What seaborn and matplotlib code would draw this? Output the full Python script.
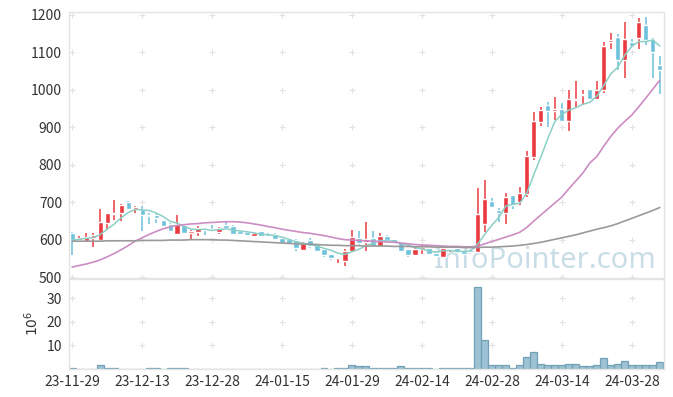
import numpy as np
import pandas as pd
import seaborn as sns
import matplotlib.pyplot as plt

sns.set_theme(style='white')
plt.rcParams['font.family'] = ['Noto Sans CJK KR', 'DejaVu Sans']

tick_labels = ['23-11-29', '23-12-13', '23-12-28', '24-01-15', '24-01-29',
               '24-02-14', '24-02-28', '24-03-14', '24-03-28']

opens = [619, 598, 597, 605, 600, 645, 668, 670, 701, 682,
         682, 667, 665, 652, 643, 616, 640, 619, 621, 631,
         628, 621, 638, 636, 623, 620, 611, 622, 616, 616,
         605, 602, 600, 573, 600, 588, 576, 561, 550, 543,
         569, 605, 594, 605, 583, 611, 601, 593, 574, 559,
         576, 578, 565, 555, 575, 579, 570, 573, 567, 641,
         703, 679, 671, 719, 701, 723, 821, 915, 959, 944,
         950, 917, 974, 986, 1002, 975, 1000, 1129, 1142, 1081,
         1128, 1138, 1173, 1135, 1066]
highs = [620, 609, 619, 618, 681, 671, 707, 695, 702, 690,
         690, 671, 668, 653, 645, 665, 640, 625, 636, 632,
         640, 633, 649, 638, 624, 621, 621, 623, 617, 617,
         606, 603, 601, 594, 605, 589, 577, 562, 555, 576,
         627, 622, 646, 624, 619, 613, 603, 594, 576, 577,
         585, 579, 566, 584, 583, 584, 571, 575, 737, 759,
         710, 684, 725, 720, 741, 836, 940, 953, 968, 980,
         964, 999, 1025, 1000, 1003, 1023, 1129, 1151, 1150, 1180,
         1137, 1191, 1195, 1138, 1090]
lows = [560, 593, 594, 581, 598, 627, 652, 650, 678, 672,
        623, 641, 645, 634, 622, 615, 615, 603, 611, 612,
        620, 616, 628, 612, 612, 611, 609, 609, 608, 598,
        588, 585, 569, 571, 579, 568, 553, 547, 537, 531,
        566, 583, 569, 580, 580, 596, 590, 568, 553, 557,
        562, 560, 555, 553, 566, 567, 560, 564, 565, 621,
        684, 648, 641, 681, 693, 714, 814, 903, 901, 920,
        917, 890, 955, 959, 974, 973, 991, 1110, 1052, 1031,
        1116, 1108, 1121, 1031, 990]
closes = [598, 605, 607, 612, 646, 670, 671, 692, 682, 688,
          665, 663, 658, 636, 623, 641, 618, 623, 630, 627,
          624, 632, 632, 614, 614, 613, 618, 611, 610, 603,
          592, 588, 579, 592, 584, 571, 559, 552, 553, 569,
          606, 592, 601, 583, 609, 598, 592, 570, 558, 576,
          580, 563, 557, 577, 578, 568, 563, 567, 669, 708,
          686, 671, 715, 693, 724, 823, 917, 946, 944, 949,
          917, 975, 977, 990, 975, 1001, 1117, 1132, 1080, 1135,
          1118, 1180, 1132, 1102, 1053]

ma20 = [527, 531, 535, 540, 546, 554, 563, 573, 584, 596,
        605, 614, 622, 629, 634, 638, 640, 642, 643, 645,
        646, 647, 648, 648, 647, 645, 642, 639, 635, 632,
        628, 625, 622, 619, 617, 614, 611, 607, 603, 600,
        599, 598, 597, 596, 595, 594, 593, 591, 589, 587,
        586, 585, 584, 583, 582, 582, 581, 581, 583, 589,
        595, 601, 607, 613, 620, 633, 650, 666, 682, 698,
        714, 736, 757, 778, 805, 822, 850, 876, 898, 916,
        933, 955, 978, 1002, 1026]
ma60 = [596, 596, 596, 596, 596, 597, 597, 597, 597, 597,
        598, 598, 598, 598, 599, 599, 599, 600, 600, 600,
        600, 599, 599, 598, 597, 596, 595, 594, 593, 592,
        591, 590, 589, 588, 588, 587, 586, 585, 585, 584,
        584, 584, 583, 583, 583, 583, 582, 582, 582, 581,
        581, 581, 580, 580, 580, 580, 579, 579, 579, 580,
        580, 581, 582, 583, 585, 587, 590, 593, 597, 601,
        605, 609, 613, 618, 623, 628, 632, 637, 643, 650,
        657, 664, 671, 678, 686]

# volume in millions
volume = [0.4, 0, 0, 0, 1.3, 0.4, 0.4, 0, 0, 0,
          0, 0.4, 0.4, 0, 0.4, 0.4, 0.4, 0, 0, 0,
          0, 0, 0, 0, 0, 0, 0, 0, 0, 0,
          0, 0, 0, 0, 0, 0, 0.4, 0, 0.4, 0.4,
          1.7, 0.9, 0.9, 0.4, 0.4, 0.4, 0.4, 0.9, 0.4, 0.4,
          0.4, 0.4, 0, 0.4, 0.4, 0.4, 0.4, 0.4, 34.7, 12.0,
          1.3, 1.3, 1.7, 0.4, 1.3, 5.1, 6.9, 2.1, 1.7, 1.7,
          1.3, 2.1, 2.1, 0.9, 0.9, 1.3, 4.3, 1.3, 2.1, 3.0,
          1.3, 1.7, 1.3, 1.7, 2.6]

df = pd.DataFrame({'open': opens, 'high': highs, 'low': lows, 'close': closes,
                   'ma20': ma20, 'ma60': ma60, 'volume': volume})
df['x'] = np.arange(len(df))
df['ma5'] = df['close'].rolling(5, min_periods=1).mean()
up = df['close'] >= df['open']

RED = '#ea3a40'
BLUE = '#6cc2da'
GRID = '#e2e2e2'
SPINE = '#e4e4e4'

fig = plt.figure(figsize=(6.73, 3.97), dpi=100)
ax = fig.add_axes([69 / 673, 1 - 277.5 / 397, 595 / 673, 265.5 / 397])
axv = fig.add_axes([69 / 673, 1 - 368.5 / 397, 595 / 673, 89.5 / 397])

xticks = list(range(0, len(df), 10))
pticks = [500, 600, 700, 800, 900, 1000, 1100, 1200]
vticks = [10, 20, 30]

# grid crosses
for xt in xticks:
    ax.plot([xt] * len(pticks), pticks, ls='none', marker='+', ms=5, mew=0.8, color=GRID, zorder=0)
    axv.plot([xt] * len(vticks), vticks, ls='none', marker='+', ms=5, mew=0.8, color=GRID, zorder=0)

ax.text(0.80, 0.035, 'InfoPointer.com', transform=ax.transAxes, ha='center', va='baseline',
        fontsize=21, color='#c9dde7', family=['Noto Sans', 'DejaVu Sans'], zorder=1)

# candles
colors = np.where(up, RED, BLUE)
body_lo = df[['open', 'close']].min(axis=1)
body_h = (df['close'] - df['open']).abs().clip(lower=1.8)
ax.vlines(df['x'], df['low'], df['high'], colors=colors, lw=1.1, zorder=2)
ax.bar(df['x'], body_h, bottom=body_lo, width=0.74, color=colors, zorder=3)

sns.lineplot(data=df, x='x', y='ma5', ax=ax, color='#8ccfc6', lw=1.1, zorder=4)
sns.lineplot(data=df, x='x', y='ma20', ax=ax, color='#cc8cc4', lw=1.2, zorder=4)
sns.lineplot(data=df, x='x', y='ma60', ax=ax, color='#9a9a9a', lw=1.2, zorder=4)

axv.bar(df['x'], df['volume'], width=1.0, color='#9cc2d3', edgecolor='#72a1b7', lw=0.9, zorder=2)

xlim = (-0.45, len(df) - 0.4)
ax.set_xlim(*xlim)
axv.set_xlim(*xlim)
ax.set_ylim(499, 1208)
axv.set_ylim(0, 38.3)

ax.set_yticks(pticks)
ax.set_xticks(xticks)
ax.set_xticklabels([])
axv.set_yticks(vticks)
axv.set_xticks(xticks)
axv.set_xticklabels(tick_labels)
ax.set_xlabel('')
ax.set_ylabel('')
axv.set_xlabel('')
axv.set_ylabel('$10^6$', fontsize=10, color='#333333', labelpad=4)

for a in (ax, axv):
    for s in a.spines.values():
        s.set_color(SPINE)
        s.set_linewidth(1.0)
    a.tick_params(length=0, labelsize=10, labelcolor='#333333', pad=5)

fig.savefig('out.png', dpi=100)
